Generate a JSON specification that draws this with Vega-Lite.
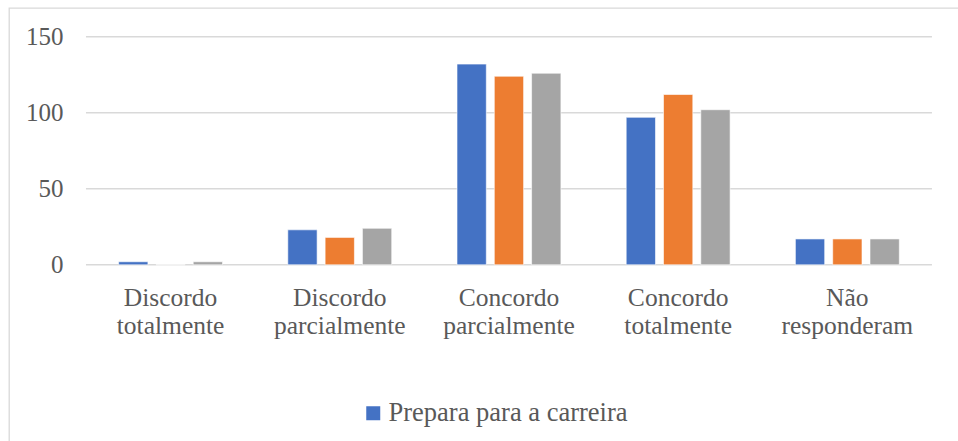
{
  "$schema": "https://vega.github.io/schema/vega-lite/v6.json",
  "autosize": {"type": "none"},
  "padding": {"left": 9, "top": 8, "right": 0, "bottom": 0},
  "width": 960,
  "height": 440,
  "background": "white",
  "config": {
    "view": {"stroke": "#d9d9d9", "strokeWidth": 1.3},
    "font": "Liberation Serif"
  },
  "datasets": {
    "respostas": [
      {"resposta": "Discordo totalmente", "serie": "Prepara para a carreira", "n": 2},
      {"resposta": "Discordo totalmente", "serie": "Série 2", "n": 0},
      {"resposta": "Discordo totalmente", "serie": "Série 3", "n": 2},
      {"resposta": "Discordo parcialmente", "serie": "Prepara para a carreira", "n": 23},
      {"resposta": "Discordo parcialmente", "serie": "Série 2", "n": 18},
      {"resposta": "Discordo parcialmente", "serie": "Série 3", "n": 24},
      {"resposta": "Concordo parcialmente", "serie": "Prepara para a carreira", "n": 132},
      {"resposta": "Concordo parcialmente", "serie": "Série 2", "n": 124},
      {"resposta": "Concordo parcialmente", "serie": "Série 3", "n": 126},
      {"resposta": "Concordo totalmente", "serie": "Prepara para a carreira", "n": 97},
      {"resposta": "Concordo totalmente", "serie": "Série 2", "n": 112},
      {"resposta": "Concordo totalmente", "serie": "Série 3", "n": 102},
      {"resposta": "Não responderam", "serie": "Prepara para a carreira", "n": 17},
      {"resposta": "Não responderam", "serie": "Série 2", "n": 17},
      {"resposta": "Não responderam", "serie": "Série 3", "n": 17}
    ],
    "grade": [{"v": 0}, {"v": 50}, {"v": 100}, {"v": 150}]
  },
  "layer": [
    {
      "data": {"name": "grade"},
      "mark": {"type": "rule", "color": "#d9d9d9", "strokeWidth": 1.4},
      "encoding": {
        "y": {
          "field": "v",
          "type": "quantitative",
          "scale": {"domain": [-120.5, 168.9], "nice": false, "zero": false},
          "axis": {
            "values": [0, 50, 100, 150],
            "offset": -54,
            "ticks": false,
            "domain": false,
            "grid": false,
            "title": null,
            "labelPadding": 0,
            "labelFont": "Liberation Serif",
            "labelFontSize": 25,
            "labelColor": "#595959"
          }
        },
        "x": {
          "datum": "Discordo totalmente",
          "type": "nominal",
          "bandPosition": 0,
          "scale": {
            "domain": ["Discordo totalmente", "Discordo parcialmente", "Concordo parcialmente", "Concordo totalmente", "Não responderam"],
            "paddingInner": 0,
            "paddingOuter": 0.337,
            "align": 0.675
          },
          "axis": {
            "orient": "bottom",
            "offset": -163,
            "ticks": false,
            "domain": false,
            "grid": false,
            "title": null,
            "labelAngle": 0,
            "labelPadding": 0,
            "labelBaseline": "top",
            "labelExpr": "split(datum.label, ' ')",
            "labelFont": "Liberation Serif",
            "labelFontSize": 25.5,
            "labelLineHeight": 28.5,
            "labelColor": "#595959"
          }
        },
        "x2": {"datum": "Não responderam", "bandPosition": 1}
      }
    },
    {
      "data": {"name": "respostas"},
      "mark": {"type": "bar", "stroke": "white", "strokeWidth": 0.6},
      "encoding": {
        "x": {
          "field": "resposta",
          "type": "nominal",
          "scale": {
            "domain": ["Discordo totalmente", "Discordo parcialmente", "Concordo parcialmente", "Concordo totalmente", "Não responderam"],
            "paddingInner": 0,
            "paddingOuter": 0.337,
            "align": 0.675
          },
          "axis": {
            "orient": "bottom",
            "offset": -163,
            "ticks": false,
            "domain": false,
            "grid": false,
            "title": null,
            "labelAngle": 0,
            "labelPadding": 0,
            "labelBaseline": "top",
            "labelExpr": "split(datum.label, ' ')",
            "labelFont": "Liberation Serif",
            "labelFontSize": 25.5,
            "labelLineHeight": 28.5,
            "labelColor": "#595959"
          }
        },
        "xOffset": {
          "field": "serie",
          "type": "nominal",
          "scale": {
            "domain": ["Prepara para a carreira", "Série 2", "Série 3"],
            "paddingInner": 0.2145,
            "paddingOuter": 0.875
          }
        },
        "y": {
          "field": "n",
          "type": "quantitative",
          "scale": {"domain": [-120.5, 168.9], "nice": false, "zero": false},
          "axis": {
            "values": [0, 50, 100, 150],
            "offset": -54,
            "ticks": false,
            "domain": false,
            "grid": false,
            "title": null,
            "labelPadding": 0,
            "labelFont": "Liberation Serif",
            "labelFontSize": 25,
            "labelColor": "#595959"
          }
        },
        "color": {
          "field": "serie",
          "type": "nominal",
          "scale": {
            "domain": ["Prepara para a carreira", "Série 2", "Série 3"],
            "range": ["#4472C4", "#ED7D31", "#A5A5A5"]
          },
          "legend": {
            "values": ["Prepara para a carreira"],
            "orient": "none",
            "legendX": 351,
            "legendY": 392,
            "title": null,
            "padding": 0,
            "symbolType": "square",
            "symbolSize": 196,
            "symbolStrokeWidth": 0,
            "symbolOpacity": 1,
            "labelOffset": 2,
            "labelLimit": 500,
            "labelFont": "Liberation Serif",
            "labelFontSize": 26.5,
            "labelColor": "#595959"
          }
        }
      }
    }
  ]
}
